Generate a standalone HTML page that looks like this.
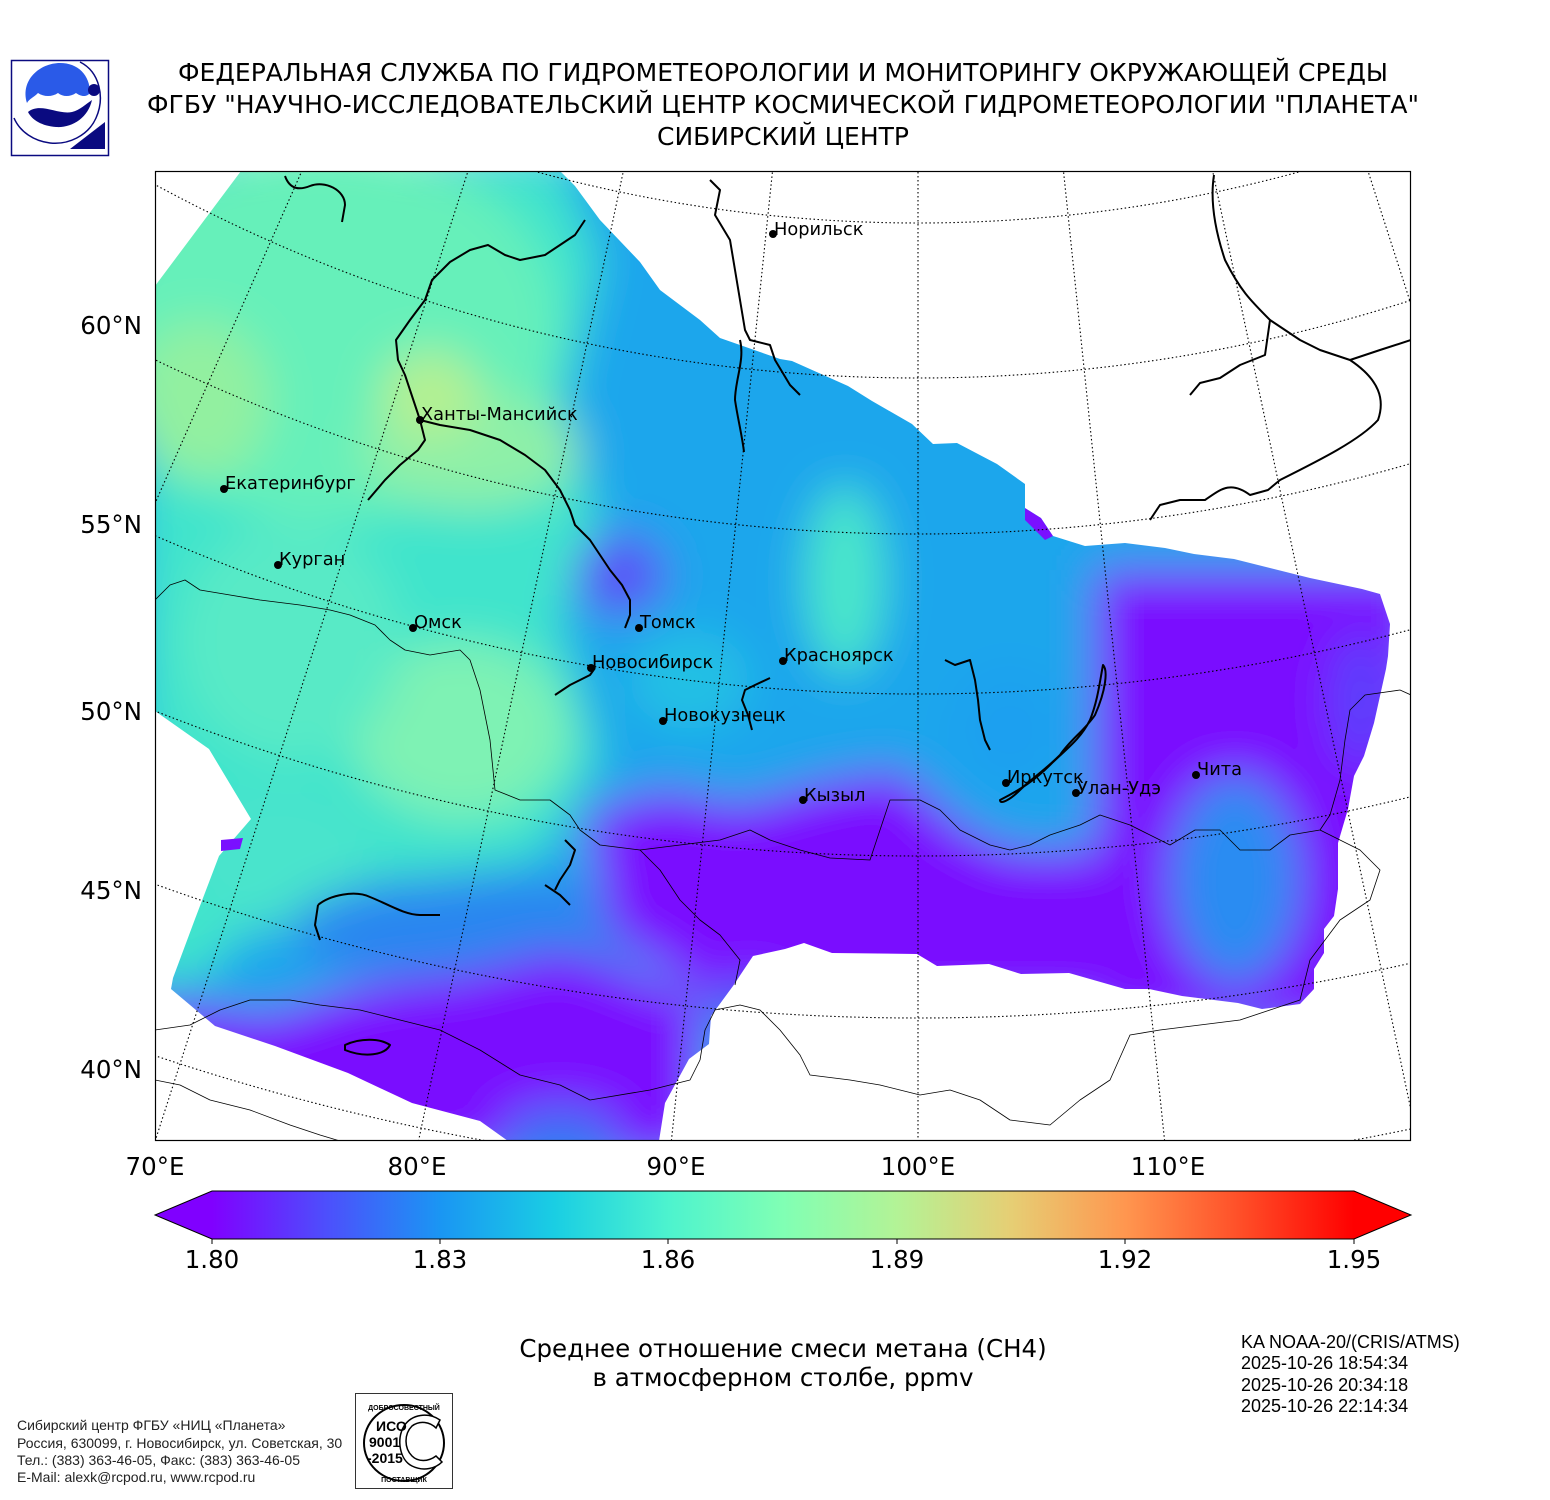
<!DOCTYPE html>
<html><head><meta charset="utf-8"><style>
body{margin:0;background:#fff;width:1550px;height:1500px;overflow:hidden}
svg{display:block}
</style></head><body>
<svg width="1550" height="1500" xmlns="http://www.w3.org/2000/svg" font-family="'DejaVu Sans','Liberation Sans',sans-serif">
<defs>
<clipPath id="mapclip"><rect x="155" y="171" width="1256" height="970"/></clipPath>
<clipPath id="dataclip"><polygon points="155,286 241,171 560,171 575,186 600,220 640,262 660,290 700,320 720,338 760,352 780,359 792,361 848,386 872,401 912,424 933,444 957,443 997,464 1025,484 1025,508 1041,518 1053,536 1085,546 1125,543 1165,548 1194,554 1234,559 1270,568 1310,578 1362,589 1380,594 1390,624 1388,656 1386,669 1374,723 1364,756 1354,776 1348,809 1338,843 1338,889 1334,916 1324,929 1324,953 1314,969 1314,989 1300,1004 1262,1009 1238,1003 1182,996 1149,989 1125,989 1097,981 1069,973 1021,974 989,964 937,966 917,954 832,953 804,943 785,949 753,956 733,986 711,1016 709,1044 689,1059 665,1103 659,1141 508,1141 480,1121 412,1103 348,1073 275,1046 215,1026 171,989 173,978 195,919 219,856 251,819 209,749 155,711"/></clipPath>
<filter id="blur" x="-20%" y="-20%" width="140%" height="140%"><feGaussianBlur stdDeviation="22"/></filter>
<linearGradient id="cb" x1="212" x2="1354" y1="0" y2="0" gradientUnits="userSpaceOnUse">
<stop offset="0" stop-color="#8000ff"/><stop offset="0.1" stop-color="#4d4ffc"/><stop offset="0.2" stop-color="#1a96f3"/><stop offset="0.3" stop-color="#1acee3"/><stop offset="0.4" stop-color="#4df3ce"/><stop offset="0.5" stop-color="#80ffb4"/><stop offset="0.6" stop-color="#b3f396"/><stop offset="0.7" stop-color="#e6ce74"/><stop offset="0.8" stop-color="#ff964f"/><stop offset="0.9" stop-color="#ff4f28"/><stop offset="1" stop-color="#ff0000"/>
</linearGradient>
</defs>

<g font-size="24.5" text-anchor="middle" fill="#000">
<text x="783" y="81" textLength="1210" lengthAdjust="spacingAndGlyphs">ФЕДЕРАЛЬНАЯ СЛУЖБА ПО ГИДРОМЕТЕОРОЛОГИИ И МОНИТОРИНГУ ОКРУЖАЮЩЕЙ СРЕДЫ</text>
<text x="783" y="113" textLength="1272" lengthAdjust="spacingAndGlyphs">ФГБУ "НАУЧНО-ИССЛЕДОВАТЕЛЬСКИЙ ЦЕНТР КОСМИЧЕСКОЙ ГИДРОМЕТЕОРОЛОГИИ "ПЛАНЕТА"</text>
<text x="783" y="145" textLength="252" lengthAdjust="spacingAndGlyphs">СИБИРСКИЙ ЦЕНТР</text>
</g>

<g>
<rect x="11.5" y="60.5" width="97" height="95" fill="#fff" stroke="#0a0a80" stroke-width="1.5"/>
<path d="M27,103 C20,80 40,63 60,63 C78,63 90,75 90,93 C86,98 80,96 76,93 C70,97 63,97 58,93 C52,97 44,97 38,93 C33,98 29,99 27,103 Z" fill="#2a5ae8"/>
<path d="M28,112 C40,102 58,115 72,112 C80,110 86,104 92,100 C88,118 72,128 56,127 C42,126 32,120 28,112 Z" fill="#0a0a80"/>
<path d="M80,62 C100,72 105,98 96,118 C88,136 68,145 50,143 C34,141 20,132 14,118" fill="none" stroke="#0a0a80" stroke-width="1.5"/>
<circle cx="94" cy="90" r="6" fill="#0a0a80"/>
<polygon points="70,149 105,149 105,122" fill="#0a0a80"/>
</g>

<g clip-path="url(#dataclip)">
<g filter="url(#blur)">
<rect x="100" y="150" width="1350" height="1050" fill="#1aa6ec"/>
<polygon points="140,160 560,160 600,260 560,420 600,520 560,620 600,760 540,860 420,880 300,880 200,980 140,980" fill="#40e4cc"/>
<ellipse cx="330" cy="330" rx="230" ry="190" fill="#66f0ba"/>
<ellipse cx="200" cy="400" rx="70" ry="80" fill="#92f0a0"/>
<ellipse cx="470" cy="450" rx="110" ry="60" fill="#8ef0a8"/>
<ellipse cx="430" cy="395" rx="50" ry="45" fill="#b4f092"/>
<ellipse cx="460" cy="730" rx="110" ry="90" fill="#7ef2b4"/>
<ellipse cx="290" cy="640" rx="110" ry="120" fill="#58eac6"/>
<ellipse cx="280" cy="860" rx="90" ry="70" fill="#48e4cc"/>
<ellipse cx="620" cy="575" rx="45" ry="40" fill="#5a50f8"/>
<ellipse cx="845" cy="580" rx="40" ry="95" fill="#4ae6ca"/>
<ellipse cx="690" cy="680" rx="60" ry="50" fill="#20c0e4"/>
<ellipse cx="480" cy="930" rx="190" ry="55" fill="#2a86f0"/>
<polygon points="1095,570 1420,570 1420,1030 1095,1030 1095,800" fill="#7a10ff"/>
<polygon points="585,815 660,790 740,805 830,780 900,770 960,825 1010,850 1100,850 1100,1010 720,1010 610,930" fill="#7a10ff"/>
<polygon points="150,1000 270,1015 360,985 460,975 560,950 640,975 700,1000 700,1160 150,1160" fill="#7a10ff"/>
<ellipse cx="1235" cy="880" rx="65" ry="105" fill="#2a8cf2"/>
<ellipse cx="1010" cy="730" rx="55" ry="60" fill="#1aa0f0"/>
<ellipse cx="560" cy="1135" rx="60" ry="30" fill="#3a70f5"/>
<ellipse cx="750" cy="1010" rx="40" ry="30" fill="#4a60f8"/>
<ellipse cx="1360" cy="700" rx="30" ry="70" fill="#5a40fc"/>
</g>
<polygon points="1025,508 1041,518 1053,536 1045,540 1025,520" fill="#7a10ff"/>
</g>
<polygon points="221,840 243,838 240,849 221,851" fill="#7a10ff"/>

<g clip-path="url(#mapclip)" fill="none" stroke="#000" stroke-width="1.1" stroke-dasharray="1.5 2.5">
<line x1="918" y1="-1224" x2="-173" y2="1246"/>
<line x1="918" y1="-1224" x2="89" y2="1346"/>
<line x1="918" y1="-1224" x2="360" y2="1418"/>
<line x1="918" y1="-1224" x2="638" y2="1461"/>
<line x1="918" y1="-1224" x2="918" y2="1476"/>
<line x1="918" y1="-1224" x2="1198" y2="1461"/>
<line x1="918" y1="-1224" x2="1476" y2="1418"/>
<line x1="918" y1="-1224" x2="1747" y2="1346"/>
<circle cx="918" cy="-1224" r="1447"/>
<circle cx="918" cy="-1224" r="1602"/>
<circle cx="918" cy="-1224" r="1758"/>
<circle cx="918" cy="-1224" r="1918"/>
<circle cx="918" cy="-1224" r="2080"/>
<circle cx="918" cy="-1224" r="2242"/>
<circle cx="918" cy="-1224" r="2404"/>
</g>

<g clip-path="url(#mapclip)" fill="none" stroke="#000" stroke-linejoin="round">
<g stroke-width="2">
<path d="M285,176 C290,190 300,190 310,186 C325,180 345,190 345,205 L342,222"/>
<path d="M420,420 L415,405 L410,390 L405,375 L398,360 L396,340 L410,320 L425,300 L432,280 L450,262 L470,250 L488,245 L505,255 L520,260 L545,255 L560,245 L575,235 L585,220"/>
<path d="M420,420 L440,425 L470,430 L500,440 L525,455 L545,470 L560,490 L570,510 L575,525 L590,540 L600,555 L610,570 L622,585 L630,600 L630,615 L625,628"/>
<path d="M420,420 L425,440 L418,450 L400,465 L385,480 L368,500"/>
<path d="M740,340 C745,360 735,380 735,400 C738,420 742,435 744,452"/>
<path d="M710,180 L720,190 L715,215 L730,240 L735,270 L740,300 L745,330 L750,340 L770,345 L775,360 L790,385 L800,395"/>
<path d="M1214,175 C1210,200 1215,230 1225,260 C1240,290 1250,300 1270,320 L1300,340 L1320,350 L1350,360 L1380,350 L1411,340"/>
<path d="M1350,360 C1380,380 1385,400 1378,420 C1360,440 1320,460 1280,480 L1268,490 L1250,495 C1230,480 1220,490 1205,500 L1180,500 L1160,505 L1150,520"/>
<path d="M1270,320 L1265,355 L1240,365 L1220,378 L1200,383 L1190,395"/>
<path d="M1103,665 C1108,670 1106,690 1095,715 C1085,730 1070,740 1060,755 C1045,770 1030,780 1020,790 C1010,800 1000,805 1000,800 C1020,790 1035,780 1050,765 C1065,750 1080,740 1090,720 C1098,700 1100,680 1103,665 Z"/>
<path d="M945,660 L955,665 L970,660 L975,680 L978,700 L980,720 L985,740 L990,750"/>
<path d="M555,695 L570,685 L590,675 L595,668"/>
<path d="M770,678 L755,685 L745,690 L742,700 L748,715 L752,730"/>
<path d="M318,905 C330,895 355,890 370,897 C390,905 405,915 420,915 L440,915 M318,905 L315,925 L320,940"/>
<path d="M345,1045 C360,1038 380,1038 390,1045 C385,1055 365,1058 345,1050 Z"/>
<path d="M565,840 L575,850 L570,865 L560,880 L555,890 M545,885 L560,895 L570,905"/>
</g>
<g stroke-width="0.8">
<path d="M155,600 L170,585 L185,580 L200,590 L230,595 L260,600 L300,605 L330,610 L350,615 L375,625 L390,640 L405,650 L430,655 L460,650 L470,660 L480,690 L490,740 L495,790 L520,800 L550,800 L570,815 L580,830 L600,845 L640,850 L680,845 L720,840 L750,830 L770,840 L800,850 L830,858 L870,860 L880,830 L890,800 L920,800 L940,810 L960,830 L990,845 L1010,850 L1030,845 L1050,835 L1080,825 L1100,815 L1130,825 L1150,835 L1170,845 L1195,830 L1220,830 L1240,850 L1270,850 L1290,835 L1320,830 L1330,815 L1340,780 L1345,740 L1350,710 L1365,695 L1400,690 L1411,695"/>
<path d="M1320,830 L1360,850 L1380,870 L1370,900 L1340,920 L1325,940 L1310,960 L1300,1000 L1270,1010 L1240,1020 L1200,1025 L1160,1030 L1130,1035 L1110,1080 L1080,1100 L1050,1125 L1010,1120 L980,1100 L950,1090 L920,1095 L880,1085 L850,1080 L810,1075 L800,1055 L780,1030 L760,1010 L740,1005 L715,1010 L705,1030 L700,1060 L690,1080 L650,1090 L590,1100 L560,1085 L520,1075 L480,1050 L440,1030 L400,1020 L360,1010 L320,1005 L290,1000 L250,1000 L220,1010 L190,1025 L155,1030"/>
<path d="M640,850 L660,870 L680,900 L700,920 L720,935 L740,960 L735,985"/>
<path d="M155,1080 L180,1085 L210,1100 L250,1110 L290,1125 L320,1135 L340,1141"/>
</g>
</g>

<g font-size="17.8" fill="#000">
<circle cx="773" cy="234" r="4"/><text x="774" y="235">Норильск</text>
<circle cx="420" cy="420" r="4"/><text x="421" y="420">Ханты-Мансийск</text>
<circle cx="224" cy="489" r="4"/><text x="225" y="489">Екатеринбург</text>
<circle cx="278" cy="565" r="4"/><text x="279" y="565">Курган</text>
<circle cx="413" cy="628" r="4"/><text x="414" y="628">Омск</text>
<circle cx="639" cy="628" r="4"/><text x="640" y="628">Томск</text>
<circle cx="591" cy="668" r="4"/><text x="592" y="668">Новосибирск</text>
<circle cx="783" cy="661" r="4"/><text x="784" y="661">Красноярск</text>
<circle cx="663" cy="721" r="4"/><text x="664" y="721">Новокузнецк</text>
<circle cx="803" cy="800" r="4"/><text x="804" y="801">Кызыл</text>
<circle cx="1006" cy="783" r="4"/><text x="1007" y="783">Иркутск</text>
<circle cx="1076" cy="793" r="4"/><text x="1077" y="794">Улан-Удэ</text>
<circle cx="1196" cy="775" r="4"/><text x="1197" y="775">Чита</text>
</g>

<rect x="155.5" y="171.5" width="1255" height="969" fill="none" stroke="#000" stroke-width="1.2"/>

<g font-size="24.5" fill="#000" text-anchor="end">
<text x="142" y="334">60°N</text>
<text x="142" y="533">55°N</text>
<text x="142" y="720">50°N</text>
<text x="142" y="899">45°N</text>
<text x="142" y="1078">40°N</text>
</g>
<g font-size="24.5" fill="#000" text-anchor="middle">
<text x="155" y="1175">70°E</text>
<text x="417" y="1175">80°E</text>
<text x="676" y="1175">90°E</text>
<text x="918" y="1175">100°E</text>
<text x="1168" y="1175">110°E</text>
</g>

<polygon points="212,1191 1354,1191 1411,1215 1354,1239 212,1239 155,1215" fill="url(#cb)"/>
<polygon points="155,1215 212,1191 212,1239" fill="#8000ff"/>
<polygon points="1411,1215 1354,1191 1354,1239" fill="#ff0000"/>
<polygon points="212,1191 1354,1191 1411,1215 1354,1239 212,1239 155,1215" fill="none" stroke="#000" stroke-width="1"/>
<g stroke="#000" stroke-width="1">
<line x1="212" y1="1239" x2="212" y2="1244"/><line x1="440" y1="1239" x2="440" y2="1244"/><line x1="668" y1="1239" x2="668" y2="1244"/><line x1="897" y1="1239" x2="897" y2="1244"/><line x1="1125" y1="1239" x2="1125" y2="1244"/><line x1="1354" y1="1239" x2="1354" y2="1244"/>
</g>
<g font-size="24.5" fill="#000" text-anchor="middle">
<text x="212" y="1268">1.80</text><text x="440" y="1268">1.83</text><text x="668" y="1268">1.86</text><text x="897" y="1268">1.89</text><text x="1125" y="1268">1.92</text><text x="1354" y="1268">1.95</text>
</g>

<g font-size="24.5" fill="#000" text-anchor="middle">
<text x="783" y="1357">Среднее отношение смеси метана (CH4)</text>
<text x="783" y="1386">в атмосферном столбе, ppmv</text>
</g>
<g font-size="18" fill="#000" font-family="'Liberation Sans',sans-serif">
<text x="1241" y="1348">KA NOAA-20/(CRIS/ATMS)</text>
<text x="1241" y="1369">2025-10-26 18:54:34</text>
<text x="1241" y="1391">2025-10-26 20:34:18</text>
<text x="1241" y="1412">2025-10-26 22:14:34</text>
</g>
<g font-size="14" fill="#222" font-family="'Liberation Sans',sans-serif">
<text x="17" y="1430">Сибирский центр ФГБУ «НИЦ «Планета»</text>
<text x="17" y="1448">Россия, 630099, г. Новосибирск, ул. Советская, 30</text>
<text x="17" y="1465">Тел.: (383) 363-46-05, Факс: (383) 363-46-05</text>
<text x="17" y="1482">E-Mail: alexk@rcpod.ru, www.rcpod.ru</text>
</g>

<g font-family="'Liberation Sans',sans-serif">
<rect x="355.5" y="1393.5" width="97" height="95" fill="#fff" stroke="#333" stroke-width="1"/>
<ellipse cx="404" cy="1443" rx="40" ry="38" fill="none" stroke="#000" stroke-width="2"/>
<path d="M440,1420 C428,1412 412,1414 404,1426 C396,1440 400,1460 412,1466 C424,1472 436,1468 442,1462 L436,1456 C428,1462 418,1462 412,1456 C404,1448 404,1434 412,1426 C420,1420 430,1422 436,1428 Z" fill="#fff" stroke="#000" stroke-width="1.5"/>
<text x="376" y="1431" font-size="14" font-weight="bold">ИСО</text>
<text x="369" y="1447" font-size="14" font-weight="bold">9001</text>
<text x="367" y="1463" font-size="14" font-weight="bold">-2015</text>
<text x="404" y="1410" font-size="7" font-weight="bold" text-anchor="middle">ДОБРОСОВЕСТНЫЙ</text>
<text x="404" y="1482" font-size="7" font-weight="bold" text-anchor="middle">ПОСТАВЩИК</text>
</g>
</svg>
</body></html>
